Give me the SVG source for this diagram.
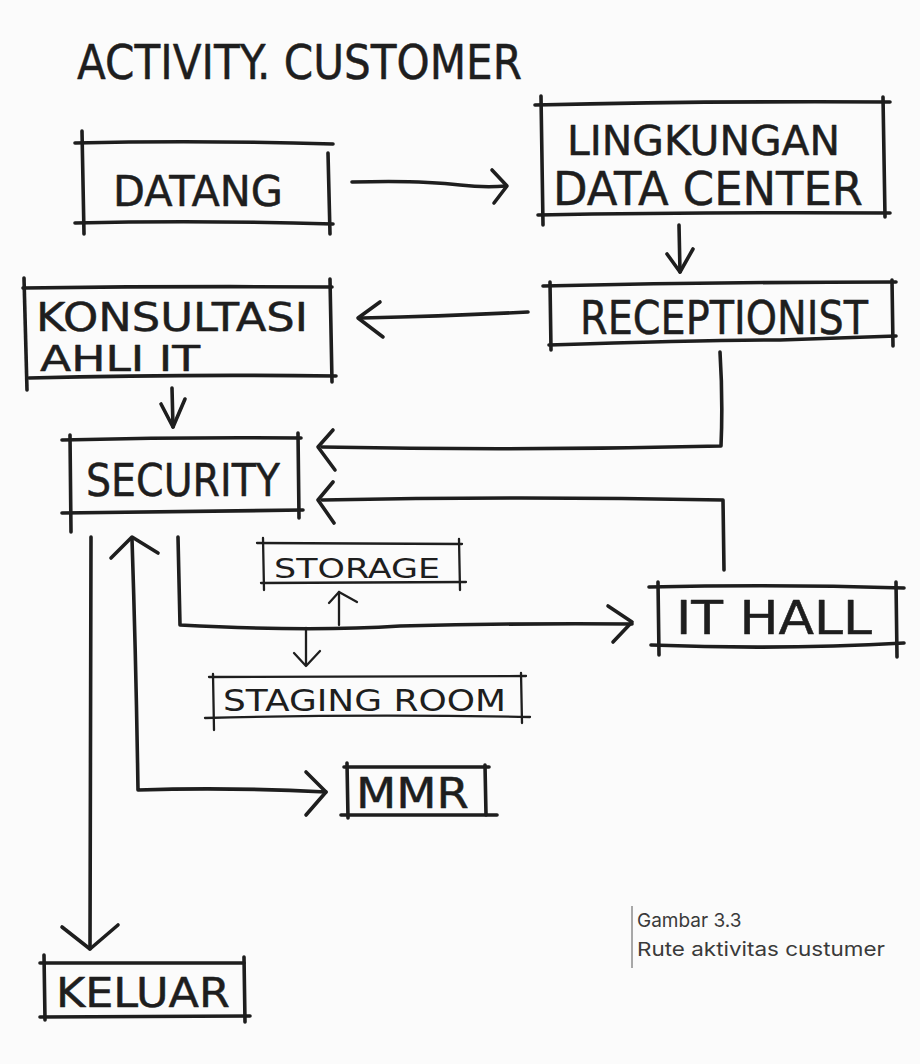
<svg xmlns="http://www.w3.org/2000/svg" width="920" height="1064" viewBox="0 0 920 1064">
<style>
.ink{fill:none;stroke:#1e1e1e;stroke-width:3.6;stroke-linecap:round;stroke-linejoin:round}
.fine{stroke-width:2.3}
.hand{font-family:"DejaVu Sans","Liberation Sans",sans-serif;fill:#1e1e1e;stroke:#1e1e1e;stroke-width:0.5;stroke-linejoin:round}
.handfine{stroke-width:0}
.caption{font-family:Inter,"Liberation Sans",sans-serif;font-size:19px;fill:#3a3a3a}
</style>
<rect width="920" height="1064" fill="#fbfbfb"/>

<g id="title">
<text class="hand" x="77" y="79" font-size="48" textLength="445" lengthAdjust="spacingAndGlyphs">ACTIVITY. CUSTOMER</text>
</g>

<g id="connectors" class="ink">
<!-- datang to lingkungan -->
<path d="M352,182 Q420,180 460,185 Q485,188 506,186"/>
<path d="M492,170 L507,186 L494,203"/>
<!-- lingkungan to receptionist -->
<path d="M679,225 L680,272"/>
<path d="M667,254 L680,272 L693,249"/>
<!-- receptionist to konsultasi -->
<path d="M528,312 Q450,316 362,318"/>
<path d="M380,302 L358,318 L383,337"/>
<!-- konsultasi to security -->
<path d="M172,388 L173,427"/>
<path d="M161,404 L173,427 L185,399"/>
<!-- receptionist to security -->
<path d="M720,352 Q723,400 721,446 Q520,451 322,447"/>
<path d="M333,430 L318,447 L335,470"/>
<!-- it hall back to security -->
<path d="M724,570 L723,500 Q520,496 322,500"/>
<path d="M333,482 L318,500 L334,523"/>
<!-- security to keluar -->
<path d="M91,537 L90,949"/>
<path d="M62,927 L90,949 L118,925"/>
<!-- mmr route, both ways -->
<path d="M132,539 Q136,660 138,790 Q230,787 326,792"/>
<path d="M111,558 L132,537 L158,553"/>
<path d="M306,772 L326,792 L306,815"/>
<!-- security to it hall with branches -->
<path d="M178,537 L180,625 Q310,632 400,626 Q520,623 632,624"/>
<path d="M608,606 L632,622 L613,642"/>
<path class="fine" d="M306,628 L306,665"/>
<path class="fine" d="M294,653 L306,666 L320,651"/>
<path class="fine" d="M339,625 L339,592"/>
<path class="fine" d="M329,603 L339,592 L357,602"/>
</g>

<g id="datang">
<g class="ink">
<path d="M75,143 Q200,140 333,144"/>
<path d="M75,223 Q200,220 333,224"/>
<path d="M82,131 L84,234"/>
<path d="M328,153 L330,234"/>
</g>
<text class="hand" x="113" y="206" font-size="43" textLength="170" lengthAdjust="spacingAndGlyphs">DATANG</text>
</g>

<g id="lingkungan">
<g class="ink">
<path d="M535,105 Q700,101 890,102"/>
<path d="M538,215 Q700,212 890,213"/>
<path d="M541,96 L543,225"/>
<path d="M883,97 L885,217"/>
</g>
<text class="hand" x="567" y="155" font-size="40" textLength="273" lengthAdjust="spacingAndGlyphs">LINGKUNGAN</text>
<text class="hand" x="553" y="205" font-size="46" textLength="310" lengthAdjust="spacingAndGlyphs">DATA CENTER</text>
</g>

<g id="receptionist">
<g class="ink">
<path d="M543,286 Q720,282 896,282"/>
<path d="M549,345 Q700,340 780,340 Q840,338 896,336"/>
<path d="M550,282 L551,350"/>
<path d="M892,280 L893,346"/>
</g>
<text class="hand" x="580" y="334" font-size="46" textLength="288" lengthAdjust="spacingAndGlyphs">RECEPTIONIST</text>
</g>

<g id="konsultasi">
<g class="ink">
<path d="M23,288 Q180,286 332,287"/>
<path d="M29,378 Q180,374 336,376"/>
<path d="M24,278 L27,390"/>
<path d="M330,279 L332,382"/>
</g>
<text class="hand" x="36" y="331" font-size="39" textLength="272" lengthAdjust="spacingAndGlyphs">KONSULTASI</text>
<text class="hand" x="40" y="371" font-size="35" textLength="160" lengthAdjust="spacingAndGlyphs">AHLI IT</text>
</g>

<g id="security">
<g class="ink">
<path d="M62,440 Q180,437 301,438"/>
<path d="M62,513 Q180,511 303,510"/>
<path d="M70,435 L71,532"/>
<path d="M298,433 L299,518"/>
</g>
<text class="hand" x="86" y="496" font-size="44" textLength="194" lengthAdjust="spacingAndGlyphs">SECURITY</text>
</g>

<g id="storage">
<g class="ink fine">
<path d="M257,543 L462,544"/>
<path d="M261,583 L466,582"/>
<path d="M263,538 L264,590"/>
<path d="M459,539 L460,590"/>
</g>
<text class="hand handfine" x="274" y="578" font-size="26" textLength="166" lengthAdjust="spacingAndGlyphs">STORAGE</text>
</g>

<g id="staging">
<g class="ink fine">
<path d="M209,677 L526,676"/>
<path d="M205,718 Q360,714 530,717"/>
<path d="M213,674 L214,730"/>
<path d="M521,673 L522,723"/>
</g>
<text class="hand handfine" x="223" y="711" font-size="30" textLength="283" lengthAdjust="spacingAndGlyphs">STAGING ROOM</text>
</g>

<g id="ithall">
<g class="ink">
<path d="M649,587 Q780,584 904,588"/>
<path d="M651,645 Q780,650 904,643"/>
<path d="M658,582 L659,655"/>
<path d="M896,582 L897,657"/>
</g>
<text class="hand" x="676" y="634" font-size="46" textLength="196" lengthAdjust="spacingAndGlyphs">IT HALL</text>
</g>

<g id="mmr">
<g class="ink">
<path d="M344,767 L489,767"/>
<path d="M341,815 L497,815"/>
<path d="M347,763 L348,818"/>
<path d="M485,765 L486,815"/>
</g>
<text class="hand" x="356" y="808" font-size="42" textLength="113" lengthAdjust="spacingAndGlyphs">MMR</text>
</g>

<g id="keluar">
<g class="ink">
<path d="M40,963 L244,963"/>
<path d="M40,1017 L250,1016"/>
<path d="M44,955 L45,1020"/>
<path d="M244,957 L245,1022"/>
</g>
<text class="hand" x="56" y="1007" font-size="40" textLength="174" lengthAdjust="spacingAndGlyphs">KELUAR</text>
</g>

<g id="caption">
<line x1="632" y1="906" x2="632" y2="968" stroke="#555" stroke-width="1"/>
<text class="caption" x="637" y="927">Gambar 3.3</text>
<text class="caption" x="637" y="956" textLength="248" lengthAdjust="spacingAndGlyphs">Rute aktivitas custumer</text>
</g>
</svg>
